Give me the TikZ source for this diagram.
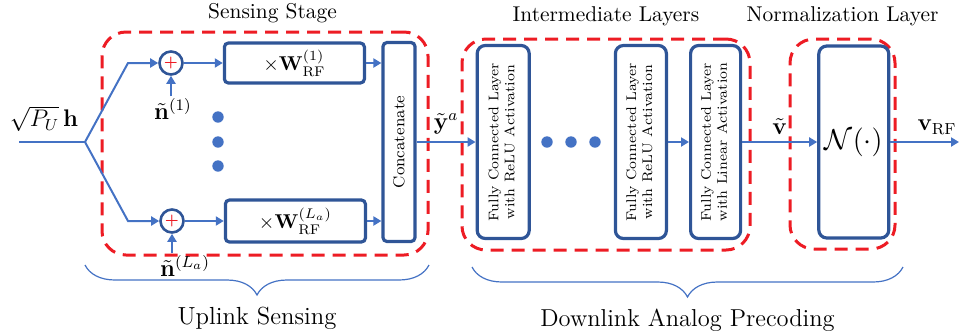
\documentclass[tikz,border=0pt]{standalone}
\usepackage{graphicx,amsmath,amssymb}
\usepackage{tikz}
\usetikzlibrary{arrows.meta,positioning,decorations.pathreplacing,calc}
\definecolor{linkblue}{RGB}{68,114,196}
\definecolor{boxblue}{RGB}{47,85,151}
\definecolor{groupred}{RGB}{237,28,36}
\tikzstyle{block} = [rectangle, draw=boxblue, line width=1.6pt, rounded corners=2pt, text centered, inner sep=0pt]
\tikzstyle{fclayer} = [block, rounded corners=4pt, minimum height=96.5pt]
\tikzstyle{adder} = [circle, draw=boxblue, line width=1.3pt, minimum size=11.5pt, inner sep=0pt]
\tikzstyle{stagebox} = [rectangle, draw=groupred, line width=1.5pt, dash pattern=on 6.5pt off 4pt, rounded corners=12pt]
\tikzstyle{stagetitle} = [scale=1.07]
\tikzstyle{connector} = [line width=1pt, draw=linkblue, -{Triangle[length=4pt,width=4.5pt]}]
\tikzstyle{feed} = [line width=1pt, draw=linkblue]
\tikzstyle{bigdot} = [circle, fill=linkblue, minimum size=5.7pt, inner sep=0pt]
\tikzstyle{groupbrace} = [decorate, decoration={brace, mirror, amplitude=15pt}, draw=linkblue, line width=0.6pt]

\begin{document}
\begin{tikzpicture}[x=1pt, y=1pt]
        \useasboundingbox (0,-96) rectangle (479.5,71);
        \node (sensing-stage) [stagebox, minimum width=163pt, minimum height=111.5pt] at (132.5,-0.75) {};
        \node (intermediate-layers) [stagebox, minimum width=144pt, minimum height=105.5pt] at (303,-1.25) {};
        \node (normalization-layer) [stagebox, minimum width=52.5pt, minimum height=105pt] at (421.25,-1) {};
        \node (sensing-title) [stagetitle, above=0pt of sensing-stage, xshift=3.5pt] {Sensing Stage};
        \node (intermediate-title) [stagetitle, above=2pt of intermediate-layers] {Intermediate Layers};
        \node (normalization-title) [stagetitle, above=2pt of normalization-layer] {Normalization Layer};
        \coordinate (input) at (9.5,0);
        \coordinate (split) at (42.5,0);
        \coordinate (upper-bend) at (64,39.5);
        \coordinate (lower-bend) at (64,-39.5);
        \node (input-label) at (22,11.5) {\large $\sqrt{P_U}\,\mathbf{h}$};
        \node (adder-1) [adder] at (85.5,39.5) {\scriptsize\textcolor{groupred}{$\boldsymbol{+}$}};
        \node (adder-2) [adder] at (86,-39.5) {\scriptsize\textcolor{groupred}{$\boldsymbol{+}$}};
        \node (noise-1) [inner sep=1pt] at (86.5,16.5) {\large $\tilde{\mathbf{n}}^{(1)}$};
        \node (noise-2) [inner sep=1pt] at (92.5,-62) {\large $\tilde{\mathbf{n}}^{(L_a)}$};
        \node (rf-1) [block, minimum width=70pt, minimum height=20pt, right=19.5pt of adder-1] {$\times\mathbf{W}_{\mathrm{RF}}^{(1)}$};
        \node (rf-2) [block, minimum width=70pt, minimum height=21pt, right=19.5pt of adder-2] {$\times\mathbf{W}_{\mathrm{RF}}^{(L_a)}$};
        \node (dot-1) [bigdot] at (109,12.5) {};
        \node (dot-2) [bigdot] at (109,0) {};
        \node (dot-3) [bigdot] at (109,-12) {};
        \node (concat) [block, minimum width=16pt, minimum height=99.5pt] at (199.5,0) {\rotatebox{90}{\footnotesize Concatenate}};
        \node (fc-1) [fclayer, minimum width=26pt, right=29.5pt of concat] {\rotatebox{90}{\scriptsize\begin{tabular}{@{}c@{}}Fully Connected Layer\\with ReLU Activation\end{tabular}}};
        \node (dot-4) [bigdot] at (273.5,0) {};
        \node (dot-5) [bigdot] at (285.5,0) {};
        \node (dot-6) [bigdot] at (297.5,0) {};
        \node (fc-2) [fclayer, minimum width=25.5pt, right=41.5pt of fc-1] {\rotatebox{90}{\scriptsize\begin{tabular}{@{}c@{}}Fully Connected Layer\\with ReLU Activation\end{tabular}}};
        \node (fc-3) [fclayer, minimum width=25pt, right=10.5pt of fc-2] {\rotatebox{90}{\scriptsize\begin{tabular}{@{}c@{}}Fully Connected Layer\\with Linear Activation\end{tabular}}};
        \node (norm) [fclayer, minimum width=35pt, minimum height=96pt, right=37.5pt of fc-3] {\Large $\mathcal{N}(\cdot)$};
        \coordinate (output) at (479.5,0);
        \coordinate (uplink-start) at (42.5,-61.5);
        \coordinate (uplink-end) at (214.5,-61.5);
        \coordinate (downlink-start) at (236,-62.5);
        \coordinate (downlink-end) at (451.5,-62.5);
        \draw [feed] (input) -- (split);
        \draw [connector] (split) -- (upper-bend) -- (adder-1);
        \draw [connector] (split) -- (lower-bend) -- (adder-2);
        \draw [connector] (noise-1.north -| adder-1) -- (adder-1);
        \draw [connector] (noise-2.north -| adder-2) -- (adder-2);
        \draw [connector] (adder-1) -- (rf-1);
        \draw [connector] (adder-2) -- (rf-2);
        \draw [connector] (rf-1) -- (rf-1 -| concat.west);
        \draw [connector] (rf-2) -- (rf-2 -| concat.west);
        \draw [connector] (concat) -- node[above=2.5pt, inner sep=1pt] {\large $\tilde{\mathbf{y}}^{a}$} (fc-1);
        \draw [connector] (fc-2) -- (fc-3);
        \draw [connector] (fc-3) -- node[above] {\large $\tilde{\mathbf{v}}$} (norm);
        \draw [connector] (norm) -- node[above, pos=0.68] {\large $\mathbf{v}_{\mathrm{RF}}$} (output);
        \draw [groupbrace] (uplink-start) -- node[below=17.5pt, scale=1.03] {\large Uplink Sensing} (uplink-end);
        \draw [groupbrace] (downlink-start) -- node[below=17.5pt, scale=1.02] {\large Downlink Analog Precoding} (downlink-end);
    \end{tikzpicture}
\end{document}
